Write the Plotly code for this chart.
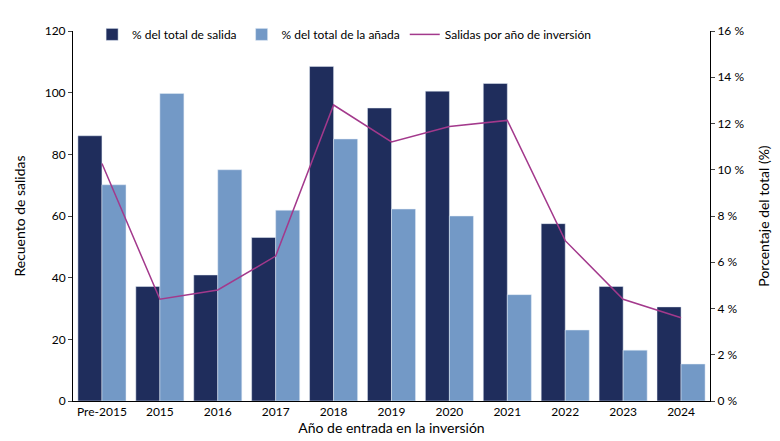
import plotly.graph_objects as go

years = ["Pre-2015", "2015", "2016", "2017", "2018", "2019", "2020", "2021", "2022", "2023", "2024"]
pct_salida = [11.47, 4.95, 5.45, 7.07, 14.47, 12.67, 13.4, 13.73, 7.67, 4.95, 4.07]
pct_anada = [9.35, 13.3, 10.0, 8.25, 11.33, 8.3, 8.0, 4.6, 3.07, 2.2, 1.6]
salidas = [77, 33, 36, 47, 96, 84, 89, 91, 52, 33, 27]

fig = go.Figure()
# bars on the percentage axis (drawn on right), line on the count axis overlaid on top
fig.add_trace(go.Bar(x=years, y=pct_salida, name="% del total de salida",
                     marker_color="#1f2d5c", yaxis="y"))
fig.add_trace(go.Bar(x=years, y=pct_anada, name="% del total de la añada",
                     marker_color="#7399c6", yaxis="y"))
fig.add_trace(go.Scatter(x=years, y=salidas, name="Salidas por año de inversión",
                         mode="lines", line=dict(color="#a3398c", width=1.5), yaxis="y2"))

fig.update_layout(
    width=780, height=441,
    margin=dict(l=62, r=78, t=12, b=48),
    plot_bgcolor="white", paper_bgcolor="white",
    font=dict(family="Lato, sans-serif", size=12, color="black"),
    barmode="group", bargap=0.17, bargroupgap=0.0,
    legend=dict(orientation="h", x=0.03, y=1.03, xanchor="left", yanchor="top",
                bgcolor="rgba(0,0,0,0)", font=dict(size=12), traceorder="normal"),
    xaxis=dict(title=dict(text="Año de entrada en la inversión", standoff=4),
               showline=True, linecolor="black", ticks="", showgrid=False),
    yaxis=dict(title="Porcentaje del total (%)", range=[0, 16], dtick=2,
               side="right", ticksuffix=" %",
               showline=True, linecolor="black", ticks="outside", ticklen=4,
               showgrid=False, zeroline=False),
    yaxis2=dict(title="Recuento de salidas", range=[0, 120], dtick=20,
                overlaying="y", side="left",
                showline=True, linecolor="black", ticks="outside", ticklen=4,
                showgrid=False, zeroline=False),
)
fig.write_html("out.html")
